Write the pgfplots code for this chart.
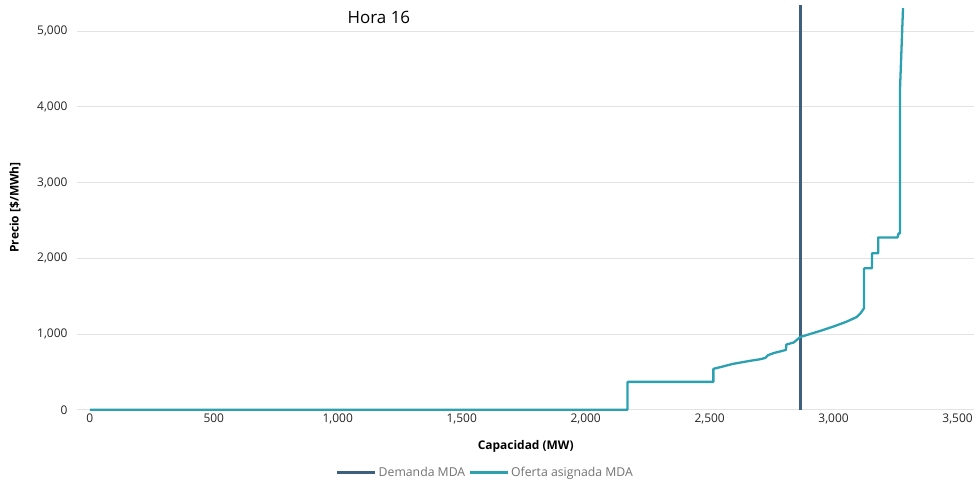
\documentclass[border=0pt]{standalone}
\usepackage{pgfplots}
\pgfplotsset{compat=1.18}
\usepackage{fontspec}
\setmainfont{Open Sans}
\definecolor{demand}{HTML}{3D5F80}
\definecolor{supply}{HTML}{2BA0B0}
\definecolor{gridc}{HTML}{E3E3E3}
\definecolor{txt}{HTML}{252525}
\begin{document}
\begin{tikzpicture}
\path (-77bp,-77bp) rectangle (899bp,410bp);
\begin{axis}[
  at={(0,0)}, anchor=south west,
  scale only axis, width=898bp, height=405bp,
  xmin=-52, xmax=3568, ymin=0, ymax=5345,
  clip=false,
  axis line style={draw=none},
  major tick length=0pt,
  ymajorgrids, grid style={gridc, line width=1pt},
  xtick={0,500,...,3500}, ytick={0,1000,...,5000},
  /pgf/number format/assume math mode=true,
  /pgf/number format/.cd, 1000 sep={,}, /pgfplots/.cd,
  ticklabel style={font=\fontsize{12}{14}\selectfont, text=txt},
  yticklabel style={xshift=-6bp},
  xticklabel style={yshift=-1bp},
  xlabel={Capacidad (MW)},
  ylabel={Precio [\$/MWh]},
  every axis x label/.style={at={(rel axis cs:0.5,0)}, anchor=center, yshift=-37bp, font=\fontsize{12}{14}\selectfont\bfseries, text=black},
  every axis y label/.style={at={(rel axis cs:0,0.5)}, xshift=-62bp, anchor=center, rotate=90, font=\fontsize{12}{14}\selectfont\bfseries, text=black},
  legend style={draw=none, at={(0.455,-0.156)}, anchor=center, font=\fontsize{12.3}{14}\selectfont, text=gray!90!black, /tikz/every even column/.append style={column sep=1bp}},
  legend columns=2,
  legend image code/.code={\draw[#1, line width=3pt] (0cm,0cm) -- (38bp,0cm);},
]
\addplot[demand, line width=3bp] coordinates {(2865,0) (2865,5345)};
\addlegendentry{Demanda MDA}
\addplot[supply, line width=2.3pt, line join=round] coordinates {
(0,0) (2169,0) (2169,368) (2515,368) (2515,540) (2540,560) (2593,605) (2661,645)
(2700,665) (2725,684) (2735,720) (2760,750) (2790,775) (2808,790) (2809,860)
(2840,890) (2865,960) (2900,995) (2950,1045) (3000,1100) (3050,1160) (3093,1224)
(3110,1280) (3123,1342) (3123,1868) (3155,1868) (3155,2066) (3180,2066)
(3180,2276) (3258,2276) (3262,2329) (3268,2329) (3268,4250) (3280,5303)};
\addlegendentry{Oferta asignada MDA}
\node[font=\fontsize{17}{20}\selectfont, text=black] at (axis cs:1166,5175) {Hora 16};
\end{axis}
\end{tikzpicture}
\end{document}
